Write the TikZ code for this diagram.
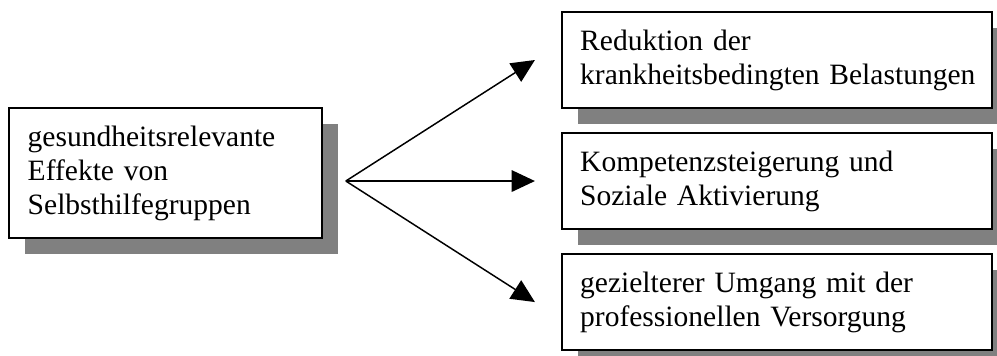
\documentclass[tikz,border=0pt]{standalone}
\usepackage{fontspec}
\setmainfont{Liberation Serif}
\usetikzlibrary{arrows.meta,positioning,shadows}
\definecolor{shade}{HTML}{808080}
\tikzset{
  box/.style={rectangle, draw=black, fill=white, line width=0.8pt, align=left,
              inner ysep=0pt, font=\fontsize{12}{13.8}\selectfont,
              drop shadow={shadow xshift=6.4pt, shadow yshift=-6.4pt, fill=shade, opacity=1}},
  srcbox/.style={box, text width=112pt, inner xsep=7.6pt, minimum height=52.8pt},
  effbox/.style={box, text width=160pt, inner xsep=7.4pt, minimum height=39pt},
  flow/.style={-{Triangle[length=9.5pt,width=8.8pt]}, draw=black, line width=0.6pt},
}
\begin{document}
\begin{tikzpicture}[x=0.4065pt, y=-0.4065pt]
\useasboundingbox (0,0) rectangle (997,356);
\node[srcbox] (n0) at (165.5,173)
 {gesundheitsrelevante\\Effekte von\\Selbsthilfegruppen};
\node[effbox] (n1) at (777,60)
 {Reduktion der\\\mbox{krankheitsbedingten Belastungen}};
\node[effbox, below=9.4pt of n1] (n2)
 {Kompetenzsteigerung und\\Soziale Aktivierung};
\node[effbox, below=9.4pt of n2] (n3)
 {gezielterer Umgang mit der\\professionellen Versorgung};
\path (n0.east |- n2.west) ++(9.3pt,0) coordinate (fork);
\coordinate[left=10.6pt of n1] (t1);
\coordinate[left=10.6pt of n2] (t2);
\coordinate[left=10.6pt of n3] (t3);
\draw[flow] (fork) -- (t1);
\draw[flow] (fork) -- (t2);
\draw[flow] (fork) -- (t3);
\end{tikzpicture}
\end{document}
